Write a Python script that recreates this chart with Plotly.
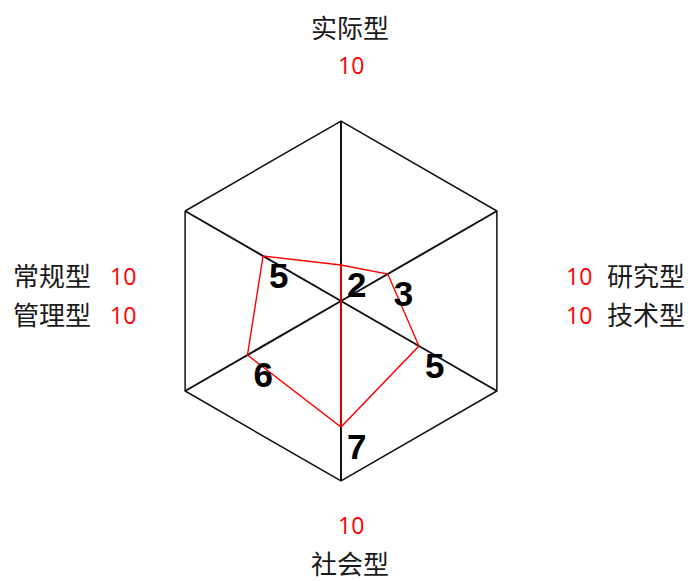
import plotly.graph_objects as go

# axes in clockwise order starting from the top
categories = ["实际型", "研究型", "技术型", "社会型", "管理型", "常规型"]
scores = [2, 3, 5, 7, 6, 5]
max_scores = [10, 10, 10, 10, 10, 10]

# the page body has an 8px margin, so lay out in reference pixels and shift back
OFF = 8
W, H = 693 - OFF, 581 - OFF
CX, CY, R = 341, 301, 180  # pixel centre / radius of the hexagon (reference coords)


def px(x):
    return (x - OFF) / W


def py(y):
    return 1 - (y - OFF) / H


fig = go.Figure()

# score polygon
fig.add_trace(go.Scatterpolar(
    r=scores + [scores[0]], theta=categories + [categories[0]],
    mode="lines", line=dict(color="#ff0000", width=1.4),
    hoverinfo="skip", showlegend=False))

# the stray red stroke joining top and bottom points
fig.add_trace(go.Scatterpolar(
    r=[scores[0], scores[3]], theta=[categories[0], categories[3]],
    mode="lines", line=dict(color="#ff0000", width=1.6),
    hoverinfo="skip", showlegend=False))

# bold score numbers
fig.add_trace(go.Scatterpolar(
    r=scores, theta=categories, mode="markers+text",
    text=[str(v) for v in scores], textposition="bottom right",
    textfont=dict(family="Liberation Sans Narrow, Liberation Sans, Arial", size=35, color="black",
                  weight="bold"),
    marker=dict(size=8, color="rgba(0,0,0,0)"),
    hoverinfo="skip", showlegend=False))

fig.update_layout(
    width=W, height=H,
    margin=dict(l=0, r=0, t=0, b=0),
    paper_bgcolor="white", plot_bgcolor="white",
    polar=dict(
        domain=dict(x=[px(CX - R), px(CX + R)], y=[py(CY + R), py(CY - R)]),
        gridshape="linear", bgcolor="white",
        radialaxis=dict(range=[0, max(max_scores)], showticklabels=False, showgrid=False,
                        showline=False, ticks="", layer="below traces"),
        angularaxis=dict(rotation=90, direction="clockwise", showticklabels=False, ticks="",
                         showline=True, linecolor="#111", linewidth=1.5,
                         showgrid=True, gridcolor="#111", gridwidth=1.5,
                         layer="below traces"),
    ),
)

cjk = dict(family="Noto Sans CJK SC", size=26, color="#1a1a1a")
num = dict(family="Open Sans", size=23, color="#ff0000")

# (text, font, x px, y px, xanchor)
labels = [
    (categories[0], cjk, 350, 26, "center"),
    (str(max_scores[0]), num, 351, 65, "center"),
    (categories[3], cjk, 350, 562, "center"),
    (str(max_scores[3]), num, 351, 525, "center"),
    (categories[5], cjk, 12, 274, "left"),
    (str(max_scores[5]), num, 109, 276, "left"),
    (categories[4], cjk, 12, 313, "left"),
    (str(max_scores[4]), num, 109, 315, "left"),
    (str(max_scores[1]), num, 565, 276, "left"),
    (categories[1], cjk, 606, 274, "left"),
    (str(max_scores[2]), num, 565, 315, "left"),
    (categories[2], cjk, 606, 313, "left"),
]
for text, font, x, y, xa in labels:
    fig.add_annotation(text=text, font=font, x=px(x), y=py(y), xref="paper", yref="paper",
                       xanchor=xa, yanchor="middle", showarrow=False, borderpad=0)

fig.write_html("out.html")
